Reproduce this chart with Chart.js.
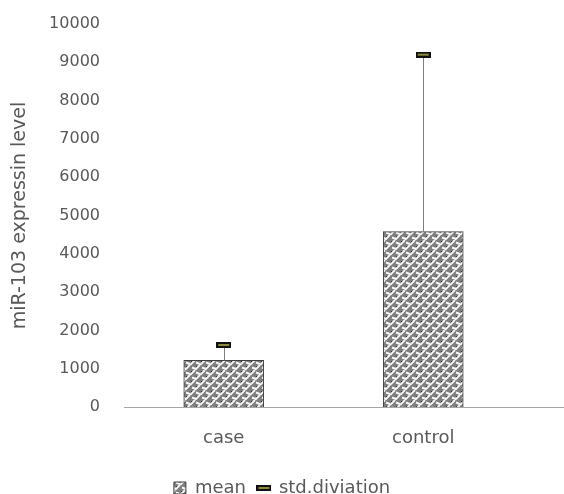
<!DOCTYPE html>
<html>
<head>
<meta charset="utf-8">
<script src="https://cdn.jsdelivr.net/npm/chart.js@4/dist/chart.umd.min.js"></script>
<style>
  html, body { margin: 0; padding: 0; background: #fff; }
  #wrap { width: 564px; height: 494px; }
</style>
</head>
<body>
<div id="wrap"><canvas id="mycanvas"></canvas></div>
<script>
var categories = ['case', 'control'];
var meanValues = [1220, 4580];
var stdValues = [400, 4620];
var yTicks = [0, 1000, 2000, 3000, 4000, 5000, 6000, 7000, 8000, 9000, 10000];

var capTops = meanValues.map(function(m, i){ return m + stdValues[i]; });

// weave-like fill for the bars
function makePattern(){
  var c = document.createElement('canvas');
  c.width = 10; c.height = 10;
  var g = c.getContext('2d');
  g.fillStyle = '#7e7e7e';
  g.fillRect(0, 0, 10, 10);
  g.fillStyle = '#2a2a2a';
  g.fillRect(1, 1, 2, 2);
  g.fillRect(6, 6, 2, 2);
  g.strokeStyle = '#f8f8f8';
  g.lineWidth = 1.9;
  g.beginPath();
  g.moveTo(0, 5); g.lineTo(5, 0);
  g.moveTo(5, 10); g.lineTo(10, 5);
  g.moveTo(2, 7.5); g.lineTo(6, 9);
  g.moveTo(6, 2.5); g.lineTo(10, 4);
  g.stroke();
  return g.createPattern(c, 'repeat');
}

function makeCap(){
  var c = document.createElement('canvas');
  c.width = 15; c.height = 6;
  var g = c.getContext('2d');
  g.fillStyle = '#111';
  g.fillRect(0, 0, 15, 6);
  g.fillStyle = '#8c8a3c';
  g.fillRect(2, 2, 11, 2);
  return c;
}

var barFill = makePattern();
var capImg = makeCap();

var whiskers = {
  id: 'whiskers',
  afterDatasetDraw: function(chart, args){
    if (args.index !== 0) return;
    var ctx = chart.ctx;
    var x = chart.scales.x, y = chart.scales.y;
    ctx.save();
    ctx.strokeStyle = '#7f7f7f';
    ctx.lineWidth = 1;
    for (var i = 0; i < categories.length; i++){
      var px = Math.round(x.getPixelForValue(i)) + 0.5;
      ctx.beginPath();
      ctx.moveTo(px, y.getPixelForValue(meanValues[i]));
      ctx.lineTo(px, y.getPixelForValue(capTops[i]));
      ctx.stroke();
    }
    ctx.restore();
  },
  afterDraw: function(chart){
    // axis line runs on to the right edge
    var ctx = chart.ctx, a = chart.chartArea;
    ctx.save();
    ctx.strokeStyle = '#a6a6a6';
    ctx.lineWidth = 1;
    ctx.beginPath();
    ctx.moveTo(a.right, Math.round(a.bottom) + 0.5);
    ctx.lineTo(chart.width, Math.round(a.bottom) + 0.5);
    ctx.stroke();
    ctx.restore();
  }
};

var chartdata = {
  labels: categories,
  datasets: [
    {
      type: 'bar',
      label: 'mean',
      data: meanValues,
      backgroundColor: barFill,
      borderColor: '#404040',
      borderWidth: 1,
      barThickness: 80,
      order: 2
    },
    {
      type: 'line',
      label: 'std.diviation',
      data: capTops,
      showLine: false,
      pointStyle: capImg,
      pointRadius: 4,
      pointHoverRadius: 4,
      order: 1
    }
  ]
};

var fontName = 'DejaVu Sans';
var ctx = document.getElementById('mycanvas');
var barGraph = new Chart(ctx, {
  data: chartdata,
  plugins: [whiskers],
  options: {
    responsive: true,
    maintainAspectRatio: false,
    animation: false,
    events: [],
    layout: { padding: { top: 24, right: 0, bottom: -13, left: 0 } },
    plugins: {
      tooltip: { enabled: false },
      legend: {
        position: 'bottom',
        labels: {
          color: '#595959',
          font: { family: fontName, size: 18 },
          usePointStyle: true,
          boxWidth: 12,
          boxHeight: 12,
          padding: 12,
          generateLabels: function(chart){
            return [
              { text: 'mean', fillStyle: barFill, strokeStyle: '#404040', lineWidth: 1, pointStyle: 'rect', datasetIndex: 0, fontColor: '#595959' },
              { text: 'std.diviation', pointStyle: capImg, datasetIndex: 1, fontColor: '#595959' }
            ];
          }
        }
      }
    },
    scales: {
      x: {
        grid: { display: false, drawTicks: false },
        border: { color: '#a6a6a6' },
        ticks: { color: '#595959', font: { family: fontName, size: 18 }, padding: 21 },
        afterFit: function(s){ s.height = 60; }
      },
      y: {
        min: 0,
        max: 10000,
        afterBuildTicks: function(s){ s.ticks = yTicks.map(function(v){ return { value: v }; }); },
        grid: { display: false, drawTicks: false },
        border: { display: false },
        ticks: {
          color: '#595959',
          font: { family: fontName, size: 16 },
          padding: 24,
          callback: function(v){ return String(v); }
        },
        title: {
          display: true,
          text: 'miR-103 expressin level',
          color: '#595959',
          font: { family: fontName, size: 19 },
          padding: { top: 9, bottom: 10 }
        },
        afterFit: function(s){ s.width = 124; s.paddingTop = 0; }
      },
      // empty right-hand space so the plot and legend sit as in the original
      yRight: {
        position: 'right',
        min: 0,
        max: 10000,
        grid: { display: false, drawTicks: false },
        border: { display: false },
        ticks: { display: false },
        afterFit: function(s){ s.width = 41; s.paddingTop = 0; s.paddingBottom = 0; }
      }
    }
  }
});
</script>
</body>
</html>
